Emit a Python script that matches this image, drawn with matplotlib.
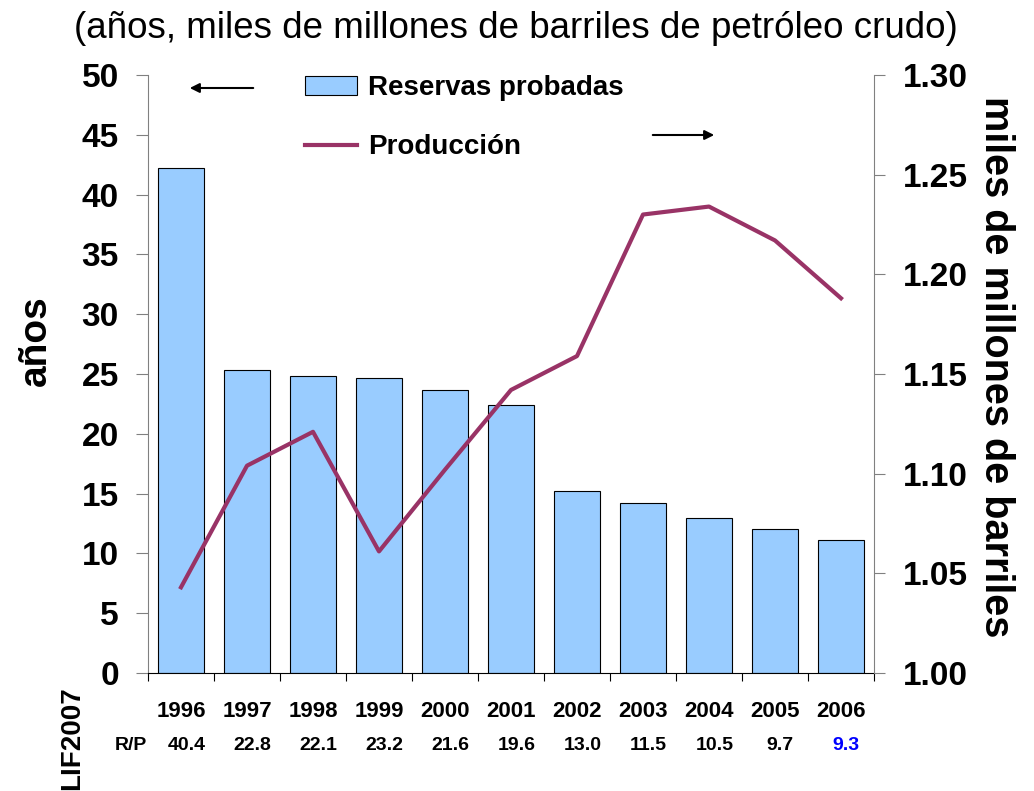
import matplotlib

matplotlib.use("Agg")
import matplotlib.pyplot as plt
from matplotlib.ticker import FixedLocator, FormatStrFormatter
from matplotlib.transforms import blended_transform_factory


plt.rcParams["font.family"] = ["Liberation Sans", "DejaVu Sans"]

# Data.
YEARS = ["1996", "1997", "1998", "1999", "2000", "2001",
         "2002", "2003", "2004", "2005", "2006"]
RESERVES_YEARS = [42.2, 25.3, 24.8, 24.7, 23.7, 22.4,
                  15.2, 14.2, 13.0, 12.0, 11.1]
PRODUCTION = [1.043, 1.104, 1.121, 1.061, 1.102, 1.142,
              1.159, 1.230, 1.234, 1.217, 1.188]
RP_RATIO = ["40.4", "22.8", "22.1", "23.2", "21.6", "19.6",
            "13.0", "11.5", "10.5", "9.7", "9.3"]

BAR_COLOR = "#99CCFF"
LINE_COLOR = "#993366"
SPINE_GREY = "#808080"

W, H = 1034, 791


def fig_xy(px, py):
    # convert reference pixel coordinates to figure fraction
    return px / W, 1 - py / H


figure = plt.figure(figsize=(W / 100, H / 100), dpi=100)
left, top = fig_xy(148, 75)
right, bottom = fig_xy(874, 673)
axis = figure.add_axes([left, bottom, right - left, top - bottom])
axis_right = axis.twinx()

positions = list(range(len(YEARS)))

bars = axis.bar(
    positions,
    RESERVES_YEARS,
    width=0.7,
    color=BAR_COLOR,
    edgecolor="black",
    linewidth=0.8,
    label="Reservas probadas",
    zorder=2,
)
line, = axis_right.plot(
    positions,
    PRODUCTION,
    color=LINE_COLOR,
    linewidth=3,
    label="Producción",
    zorder=3,
)

axis.set_xlim(-0.5, len(YEARS) - 0.5)
axis.set_ylim(0, 50)
axis_right.set_ylim(1.0, 1.3)

axis.set_yticks(range(0, 51, 5))
axis_right.set_yticks([1.00, 1.05, 1.10, 1.15, 1.20, 1.25, 1.30])
axis_right.yaxis.set_major_formatter(FormatStrFormatter("%.2f"))

# tick marks sit between the categories, year labels at the centres
axis.xaxis.set_major_locator(FixedLocator([p - 0.5 for p in range(len(YEARS) + 1)]))
axis.xaxis.set_major_formatter(plt.NullFormatter())
axis.xaxis.set_minor_locator(FixedLocator(positions))
axis.set_xticklabels(YEARS, minor=True)
axis.tick_params(axis="x", which="major", direction="out", length=6,
                 color="black")
axis.tick_params(axis="x", which="minor", length=0, pad=20,
                 labelsize=16)
for label in axis.get_xticklabels(minor=True):
    label.set_fontweight("bold")

axis.tick_params(axis="y", direction="out", length=9, color=SPINE_GREY,
                 labelsize=24, pad=12)
axis_right.tick_params(axis="y", direction="out", length=8, color=SPINE_GREY,
                       labelsize=24, pad=13)
for label in axis.get_yticklabels() + axis_right.get_yticklabels():
    label.set_fontweight("bold")

for side in ["top", "right"]:
    axis.spines[side].set_visible(False)
axis_right.spines["top"].set_visible(False)
axis_right.spines["left"].set_visible(False)
axis_right.spines["bottom"].set_visible(False)
axis.spines["left"].set_color(SPINE_GREY)
axis_right.spines["right"].set_color(SPINE_GREY)
axis.spines["bottom"].set_color("black")

# axis titles
figure.text(*fig_xy(36, 341), "años", rotation=90, fontsize=28,
            fontweight="bold", ha="center", va="center")
figure.text(*fig_xy(996, 367), "miles de millones de barriles",
            rotation=-90, fontsize=28.5, fontweight="bold",
            ha="center", va="center")
figure.text(*fig_xy(516, 28), "(años, miles de millones de barriles de petróleo crudo)",
            fontsize=26.5, ha="center", va="center")
figure.text(*fig_xy(72, 738), "LIF2007", rotation=90, fontsize=20,
            fontweight="bold", ha="center", va="center")

# R/P row under the years
row_transform = blended_transform_factory(axis.transData, axis.transAxes)
row_y = (673 - 746) / (673 - 75)
axis.text(-0.52, row_y, "R/P", transform=row_transform, fontsize=14,
          fontweight="bold", ha="right", va="center")
for position, ratio in zip(positions, RP_RATIO):
    color = "#0000FF" if position == len(YEARS) - 1 else "black"
    axis.text(position + 0.08, row_y, ratio, transform=row_transform,
              fontsize=14, fontweight="bold", ha="center", va="center",
              color=color)

# legend
figure.legend(
    handles=[bars, line],
    labels=["Reservas probadas", "Producción"],
    loc="upper left",
    bbox_to_anchor=fig_xy(305, 75),
    frameon=False,
    prop={"weight": "bold", "size": 20},
    handlelength=1.87,
    handletextpad=0.4,
    labelspacing=1.2,
    borderpad=0,
    borderaxespad=0,
)

# arrows pointing to the matching axis
arrow_style = {"arrowstyle": "-|>", "color": "black", "lw": 1.5,
               "mutation_scale": 14}
figure.add_artist(plt.Annotation("", xy=fig_xy(187, 88), xytext=fig_xy(256, 88),
                                 xycoords="figure fraction",
                                 textcoords="figure fraction",
                                 arrowprops=arrow_style))
figure.add_artist(plt.Annotation("", xy=fig_xy(717, 135), xytext=fig_xy(650, 135),
                                 xycoords="figure fraction",
                                 textcoords="figure fraction",
                                 arrowprops=arrow_style))

figure.savefig("out.png", dpi=100)
plt.close(figure)
